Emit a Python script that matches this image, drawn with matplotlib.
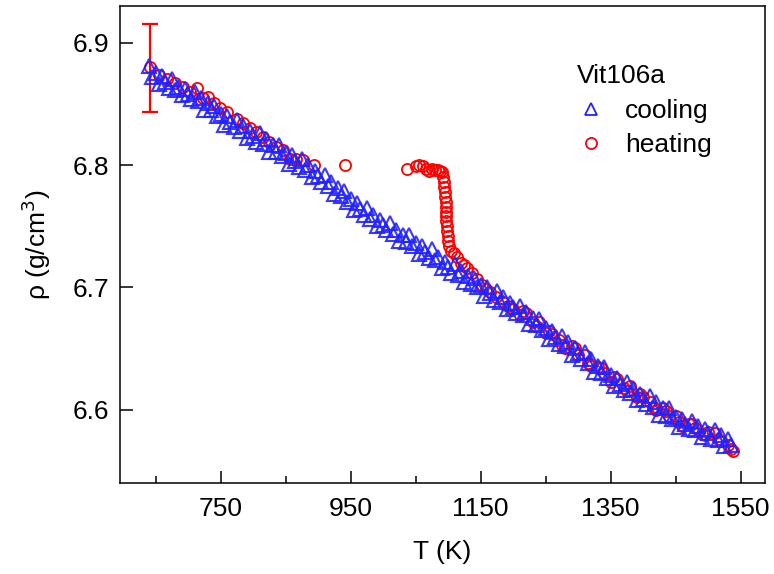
import matplotlib
matplotlib.use("Agg")
import matplotlib.pyplot as plt
from matplotlib.ticker import FixedLocator

plt.rcParams['font.family'] = ['Liberation Sans', 'DejaVu Sans']

# ---------------- data ----------------
cool_T = [640, 645, 650, 655, 660, 665, 670, 675, 680, 685,
          690, 695, 700, 705, 710, 715, 720, 725, 730, 735,
          740, 745, 750, 755, 760, 765, 770, 775, 780, 785,
          790, 795, 800, 805, 810, 815, 820, 825, 830, 835,
          840, 845, 850, 855, 860, 865, 870, 875, 880, 885,
          890, 895, 900, 905, 910, 915, 920, 925, 930, 935,
          940, 945, 950, 955, 960, 965, 970, 975, 980, 985,
          990, 995, 1000, 1005, 1010, 1015, 1020, 1025, 1030, 1035,
          1040, 1045, 1050, 1055, 1060, 1065, 1070, 1075, 1080, 1085,
          1090, 1095, 1100, 1105, 1110, 1115, 1120, 1125, 1130, 1135,
          1140, 1145, 1150, 1155, 1160, 1165, 1170, 1175, 1180, 1185,
          1190, 1195, 1200, 1205, 1210, 1215, 1220, 1225, 1230, 1235,
          1240, 1245, 1250, 1255, 1260, 1265, 1270, 1275, 1280, 1285,
          1290, 1295, 1300, 1305, 1310, 1315, 1320, 1325, 1330, 1335,
          1340, 1345, 1350, 1355, 1360, 1365, 1370, 1375, 1380, 1385,
          1390, 1395, 1400, 1405, 1410, 1415, 1420, 1425, 1430, 1435,
          1440, 1445, 1450, 1455, 1460, 1465, 1470, 1475, 1480, 1485,
          1490, 1495, 1500, 1505, 1510, 1515, 1520, 1525, 1530, 1535]
cool_rho = [6.881, 6.872, 6.875, 6.866, 6.873, 6.868, 6.863, 6.870, 6.861, 6.864,
            6.857, 6.862, 6.858, 6.854, 6.860, 6.852, 6.855, 6.845, 6.851, 6.845,
            6.848, 6.840, 6.842, 6.833, 6.840, 6.835, 6.831, 6.837, 6.828, 6.832,
            6.822, 6.828, 6.824, 6.819, 6.826, 6.817, 6.821, 6.811, 6.816, 6.811,
            6.816, 6.807, 6.810, 6.801, 6.808, 6.803, 6.798, 6.805, 6.796, 6.800,
            6.790, 6.795, 6.791, 6.786, 6.792, 6.783, 6.786, 6.776, 6.781, 6.775,
            6.779, 6.770, 6.772, 6.763, 6.769, 6.764, 6.759, 6.765, 6.756, 6.759,
            6.750, 6.755, 6.751, 6.747, 6.753, 6.744, 6.747, 6.738, 6.743, 6.737,
            6.743, 6.734, 6.736, 6.727, 6.734, 6.729, 6.724, 6.731, 6.722, 6.725,
            6.716, 6.721, 6.717, 6.712, 6.719, 6.710, 6.713, 6.704, 6.709, 6.703,
            6.708, 6.700, 6.702, 6.693, 6.700, 6.695, 6.690, 6.697, 6.688, 6.692,
            6.682, 6.687, 6.684, 6.679, 6.685, 6.677, 6.680, 6.670, 6.675, 6.669,
            6.674, 6.665, 6.667, 6.658, 6.664, 6.659, 6.654, 6.660, 6.652, 6.655,
            6.645, 6.650, 6.646, 6.641, 6.647, 6.638, 6.641, 6.631, 6.636, 6.630,
            6.635, 6.626, 6.628, 6.619, 6.626, 6.621, 6.616, 6.623, 6.614, 6.617,
            6.608, 6.613, 6.609, 6.605, 6.611, 6.602, 6.606, 6.596, 6.601, 6.595,
            6.601, 6.592, 6.594, 6.586, 6.592, 6.588, 6.584, 6.591, 6.583, 6.587,
            6.578, 6.584, 6.581, 6.576, 6.583, 6.575, 6.579, 6.570, 6.576, 6.571]

heat_T = [641, 655, 668, 680, 692, 703, 713, 722, 730, 740,
          749, 760, 775, 785, 795, 805, 815, 825, 835, 846,
          857, 866, 877, 893, 941, 1037, 1050, 1055, 1061, 1066,
          1070, 1075, 1080, 1084, 1088, 1090, 1092, 1093, 1094, 1095,
          1095, 1096, 1096, 1097, 1097, 1097, 1098, 1098, 1099, 1100,
          1102, 1105, 1109, 1113, 1120, 1125, 1129, 1136, 1144, 1152,
          1158, 1164, 1174, 1184, 1192, 1200, 1210, 1215, 1220, 1230,
          1235, 1240, 1250, 1255, 1260, 1270, 1275, 1280, 1290, 1295,
          1300, 1310, 1315, 1320, 1330, 1335, 1340, 1350, 1355, 1360,
          1370, 1375, 1380, 1390, 1395, 1400, 1410, 1415, 1420, 1430,
          1435, 1440, 1450, 1455, 1460, 1470, 1475, 1480, 1490, 1495,
          1500, 1510, 1515, 1520, 1530, 1535, 1538]
heat_rho = [6.880, 6.874, 6.870, 6.867, 6.864, 6.860, 6.863, 6.855, 6.856, 6.851,
            6.847, 6.843, 6.838, 6.834, 6.830, 6.827, 6.823, 6.819, 6.815, 6.812,
            6.805, 6.805, 6.804, 6.800, 6.800, 6.797, 6.799, 6.800, 6.799, 6.797,
            6.795, 6.797, 6.796, 6.796, 6.795, 6.794, 6.790, 6.786, 6.782, 6.778,
            6.774, 6.770, 6.766, 6.762, 6.758, 6.754, 6.750, 6.746, 6.742, 6.738,
            6.734, 6.730, 6.728, 6.725, 6.720, 6.718, 6.716, 6.712, 6.707, 6.702,
            6.699, 6.696, 6.692, 6.688, 6.685, 6.682, 6.677, 6.681, 6.679, 6.672,
            6.668, 6.672, 6.663, 6.664, 6.662, 6.657, 6.653, 6.650, 6.652, 6.650,
            6.645, 6.645, 6.638, 6.636, 6.635, 6.634, 6.630, 6.623, 6.627, 6.625,
            6.618, 6.615, 6.619, 6.610, 6.613, 6.610, 6.606, 6.602, 6.600, 6.601,
            6.599, 6.595, 6.595, 6.590, 6.587, 6.588, 6.588, 6.585, 6.580, 6.579,
            6.582, 6.581, 6.576, 6.574, 6.571, 6.568, 6.566]

err_T = [641]
err_rho = [6.879]
err_val = [0.036]

x_major = [750, 950, 1150, 1350, 1550]
x_minor = [650, 850, 1050, 1250, 1450]
y_major = [6.6, 6.7, 6.8, 6.9]

# ---------------- plot ----------------
fig = plt.figure(figsize=(7.74, 5.74), dpi=100)
ax = fig.add_axes([0.155, 0.1585, 0.833, 0.831])

ax.errorbar(err_T, err_rho, yerr=err_val, fmt='none', ecolor='#ff0000',
            elinewidth=1.6, capsize=5.5, capthick=1.6, zorder=1)
h_heat, = ax.plot(heat_T, heat_rho, linestyle='none', marker='o', markersize=8,
                  markerfacecolor='none', markeredgecolor='#ff0000',
                  markeredgewidth=1.3, label='heating', zorder=2)
h_cool, = ax.plot(cool_T, cool_rho, linestyle='none', marker='^', markersize=10,
                  markerfacecolor='none', markeredgecolor='#2323ff',
                  markeredgewidth=1.5, alpha=0.9, label='cooling', zorder=3)

ax.set_xlim(595, 1587)
ax.set_ylim(6.540, 6.930)
ax.xaxis.set_major_locator(FixedLocator(x_major))
ax.xaxis.set_minor_locator(FixedLocator(x_minor))
ax.yaxis.set_major_locator(FixedLocator(y_major))
ax.set_xticklabels([str(v) for v in x_major])
ax.set_yticklabels([f"{v:.1f}" for v in y_major])

ax.tick_params(which='both', direction='in', top=False, right=False,
               labelsize=19, width=1.1)
ax.tick_params(axis='x', pad=10)
ax.tick_params(axis='y', pad=8)
ax.tick_params(which='major', length=9)
ax.tick_params(which='minor', length=5)
for s in ax.spines.values():
    s.set_linewidth(1.1)

ax.set_xlabel('T (K)', fontsize=19, labelpad=14)
ax.set_ylabel(r'ρ (g/cm$^3$)', fontsize=19, labelpad=14)

leg = ax.legend(handles=[h_cool, h_heat], title='Vit106a', loc='upper left',
                bbox_to_anchor=(0.693, 0.900), frameon=False, fontsize=19,
                title_fontsize=19, handlelength=1.0, handletextpad=0.8,
                labelspacing=0.4, alignment='left', borderaxespad=0)
for lh in leg.legend_handles:
    lh.set_alpha(1)
    lh.set_markersize(8)
    lh.set_markeredgewidth(1.3)

fig.savefig('out.png', dpi=100)
